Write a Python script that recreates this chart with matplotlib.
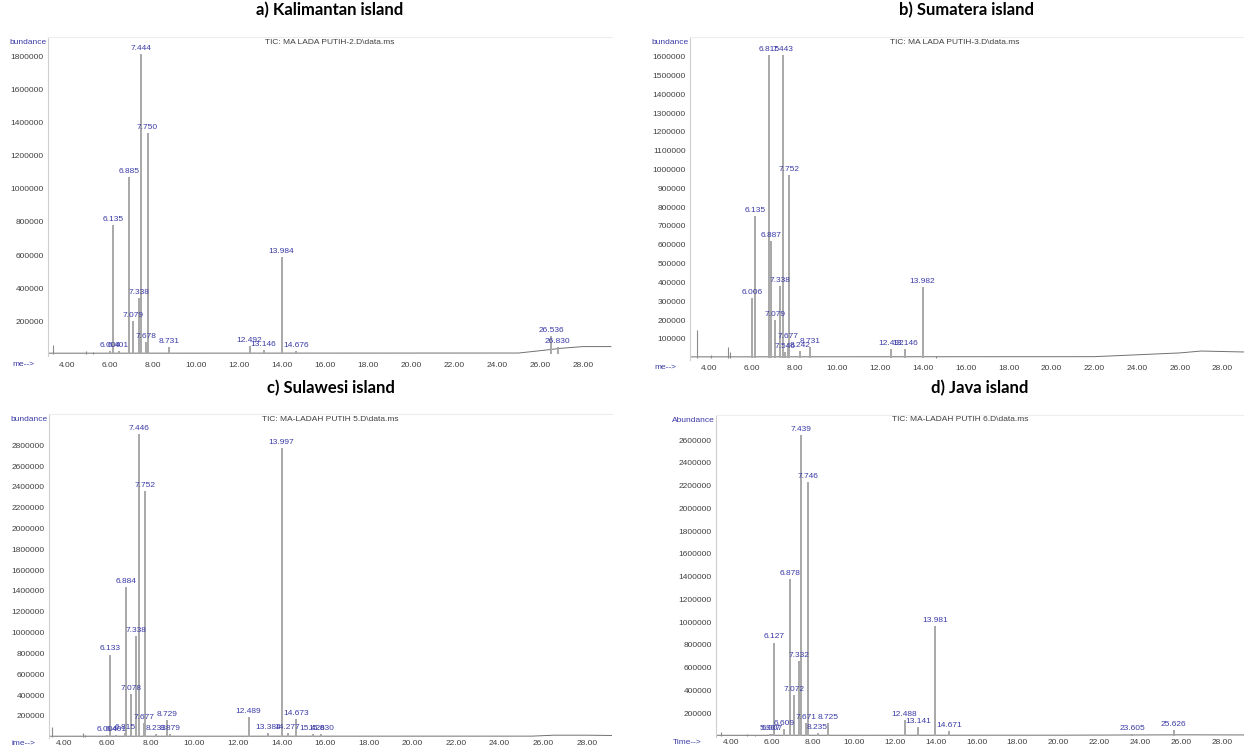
import matplotlib.pyplot as plt

# Chromatogram peaks (time in min, abundance)
a_times = [6.004, 6.135, 6.401, 6.885, 7.079, 7.338, 7.444, 7.678, 7.750, 8.731,
           12.492, 13.146, 13.984, 14.676, 26.536, 26.830]
a_heights = [20000, 780000, 20000, 1070000, 200000, 340000, 1820000, 70000, 1340000, 40000,
             50000, 25000, 590000, 20000, 110000, 45000]
a_minor_times = [3.35, 4.90, 5.20]
a_minor_heights = [55000, 20000, 10000]
a_drift_t = [3.12, 25.0, 26.0, 27.0, 28.0, 29.3]
a_drift_y = [5000, 6000, 20000, 35000, 45000, 45000]

b_times = [6.006, 6.135, 6.815, 6.887, 7.079, 7.338, 7.443, 7.546, 7.677, 7.752,
           8.242, 8.731, 12.492, 13.146, 13.982]
b_heights = [315000, 754000, 1610000, 620000, 200000, 380000, 1610000, 30000, 80000, 970000,
             35000, 55000, 45000, 45000, 374000]
b_minor_times = [3.42, 4.10, 4.88, 4.98, 14.60]
b_minor_heights = [145000, 12000, 58000, 30000, 10000]
b_drift_t = [3.11, 22.0, 24.0, 26.0, 27.0, 29.0]
b_drift_y = [4000, 5000, 15000, 25000, 35000, 30000]

c_times = [6.004, 6.133, 6.401, 6.815, 6.884, 7.078, 7.338, 7.446, 7.677, 7.752,
           8.233, 8.729, 8.879, 12.489, 13.384, 13.997, 14.277, 14.673, 15.426, 15.830]
c_heights = [20000, 790000, 20000, 40000, 1440000, 410000, 970000, 2910000, 130000, 2360000,
             30000, 160000, 30000, 190000, 40000, 2770000, 40000, 170000, 30000, 30000]
c_minor_times = [3.45, 4.90, 5.00]
c_minor_heights = [90000, 40000, 20000]
c_drift_t = [3.33, 25.5, 26.5, 28.0, 29.2]
c_drift_y = [5000, 6000, 15000, 15000, 12000]

d_times = [5.907, 6.007, 6.127, 6.609, 6.878, 7.072, 7.332, 7.439, 7.671, 7.746,
           8.235, 8.725, 12.488, 13.141, 13.981, 14.671, 23.605, 25.626]
d_heights = [20000, 20000, 820000, 60000, 1375000, 355000, 660000, 2640000, 110000, 2230000,
             25000, 110000, 140000, 75000, 965000, 40000, 20000, 50000]
d_minor_times = [3.50, 4.80, 5.20]
d_minor_heights = [30000, 15000, 10000]
d_drift_t = [3.27, 20.0, 26.0, 29.1]
d_drift_y = [5000, 6000, 9000, 8000]

a_yticks = list(range(200000, 1800001, 200000))
b_yticks = list(range(100000, 1600001, 100000))
c_yticks = list(range(200000, 2800001, 200000))
d_yticks = list(range(200000, 2600001, 200000))
xticks = [4, 6, 8, 10, 12, 14, 16, 18, 20, 22, 24, 26, 28]

titles = ['a) Kalimantan island', 'b) Sumatera island', 'c) Sulawesi island', 'd) Java island']
tic_titles = ['TIC: MA LADA PUTIH-2.D\\data.ms', 'TIC: MA LADA PUTIH-3.D\\data.ms',
              'TIC: MA-LADAH PUTIH 5.D\\data.ms', 'TIC: MA-LADAH PUTIH 6.D\\data.ms']
y_names = ['bundance', 'bundance', 'bundance', 'Abundance']
x_names = ['me-->', 'me-->', 'ime-->', 'Time-->']

W, H = 1244, 749
BLUE = '#3b3ba8'
plt.rcParams['font.family'] = ['Liberation Sans', 'DejaVu Sans']

fig = plt.figure(figsize=(W / 100, H / 100), dpi=100)


def draw_panel(box, xlim, ylim, times, heights, minor_t, minor_h, drift_t, drift_y,
               yticks, title, tic, yname, xname, title_y, title_x, xpad):
    L, R, T, B = box
    ax = fig.add_axes([L / W, 1 - B / H, (R - L) / W, (B - T) / H])
    ax.set_xlim(*xlim)
    ax.set_ylim(*ylim)
    ax.plot(drift_t, drift_y, color='#707070', lw=0.7)
    ax.vlines(minor_t, 0, minor_h, color='#8a8a8a', lw=0.8)
    ax.vlines(times, 0, heights, color='#a8a8a8', lw=1.4)
    for t, h in zip(times, heights):
        ax.annotate(f'{t:.3f}', (t, h), xytext=(0, 1.5), textcoords='offset points',
                    ha='center', va='bottom', fontsize=6, color=BLUE)
    ax.set_xticks(xticks)
    ax.set_xticklabels([f'{x:.2f}' for x in xticks])
    ax.set_yticks(yticks)
    ax.set_yticklabels([str(y) for y in yticks])
    ax.tick_params(axis='both', length=0, labelsize=6, colors='#404040', pad=3)
    ax.tick_params(axis='x', pad=xpad)
    for s in ['right', 'bottom']:
        ax.spines[s].set_visible(False)
    ax.spines['left'].set_color('#cfcfcf')
    ax.spines['top'].set_color('#ededed')
    ax.patch.set_alpha(0)
    fig.text((L - 1) / W, 1 - (T + 6) / H, yname, ha='right', va='center', fontsize=6, color=BLUE)
    fig.text((L - 14) / W, 1 - (B + xpad + 4) / H, xname, ha='right', va='center', fontsize=6, color=BLUE)
    fig.text(title_x / W, 1 - (T + 5) / H, tic, ha='center', va='center', fontsize=6, color='#404040')
    fig.text((L + R) / 2 / W, 1 - title_y / H, title, ha='center', va='center',
             fontsize=12, fontweight='bold', family=['Lato', 'DejaVu Sans'])
    return ax


draw_panel((48, 612, 37, 356), (3.12, 29.35), (-12000, 1921000),
           a_times, a_heights, a_minor_times, a_minor_heights, a_drift_t, a_drift_y,
           a_yticks, titles[0], tic_titles[0], y_names[0], x_names[0], 10, 330, 4)
draw_panel((690, 1244, 37, 359.5), (3.11, 29.0), (-10000, 1705000),
           b_times, b_heights, b_minor_times, b_minor_heights, b_drift_t, b_drift_y,
           b_yticks, titles[1], tic_titles[1], y_names[1], x_names[1], 10, 955, 4)
draw_panel((49, 612, 414, 738), (3.33, 29.16), (-12000, 3100000),
           c_times, c_heights, c_minor_times, c_minor_heights, c_drift_t, c_drift_y,
           c_yticks, titles[2], tic_titles[2], y_names[2], x_names[2], 388, 330, 1.5)
draw_panel((716, 1244, 415, 737), (3.27, 29.07), (-10000, 2820000),
           d_times, d_heights, d_minor_times, d_minor_heights, d_drift_t, d_drift_y,
           d_yticks, titles[3], tic_titles[3], y_names[3], x_names[3], 388, 960, 1.5)

fig.savefig('out.png', dpi=100)
